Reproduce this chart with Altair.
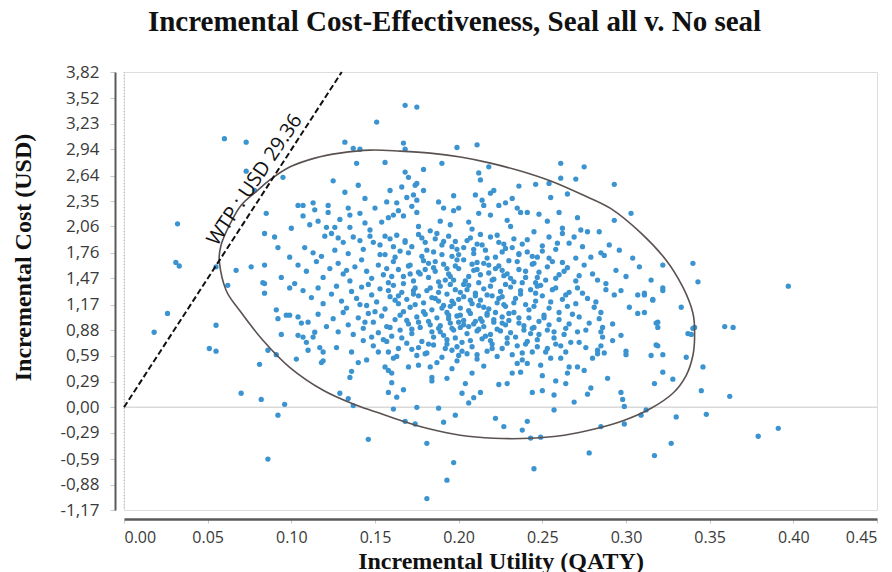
import altair as alt
import pandas as pd

TITLE = "Incremental Cost-Effectiveness, Seal all v. No seal"
X_TITLE = "Incremental Utility (QATY)"
Y_TITLE = "Incremental Cost (USD)"
WTP = 29.36
WTP_LABEL = "WTP :  USD 29.36"

x_ticks = [0.00, 0.05, 0.10, 0.15, 0.20, 0.25, 0.30, 0.35, 0.40, 0.45]
y_ticks = [-1.17, -0.88, -0.59, -0.29, 0.00, 0.29, 0.59, 0.88, 1.17, 1.47,
           1.76, 2.06, 2.35, 2.64, 2.94, 3.23, 3.52, 3.82]

# simulated (QATY, USD) pairs, grouped by region
sparse_left = [(0.018,0.855),(0.026,1.07),(0.032,2.09),(0.031,1.65),(0.033,1.61),(0.060,3.06),
    (0.073,3.02),(0.073,2.69),(0.078,2.47),(0.095,2.62),(0.085,2.21),(0.084,1.98),(0.090,1.94),
    (0.092,1.82),(0.067,1.56),(0.055,1.60),(0.076,1.60),(0.084,1.62),(0.099,1.71),(0.055,0.935),
    (0.051,0.67),(0.055,0.64),(0.081,0.49),(0.086,0.65),(0.091,0.60),(0.070,0.16),(0.082,0.09),
    (0.096,0.034),(0.092,-0.09),(0.086,-0.59),(0.094,0.83),(0.103,0.55),(0.062,1.39),(0.083,1.42),
    (0.084,1.41),(0.084,1.30),(0.094,1.48),(0.099,1.36),(0.102,1.41),(0.091,1.11),(0.092,1.01),
    (0.097,1.05),(0.099,1.05)]
top_cloud = [(0.132,3.02),(0.137,2.95),(0.141,2.94),(0.151,3.25),(0.168,3.44),(0.175,3.42),
    (0.167,3.01),(0.168,2.94),(0.139,2.78),(0.156,2.79),(0.168,2.68),(0.170,2.62),
    (0.104,2.30),(0.107,2.30),(0.113,2.33),(0.122,2.30),(0.140,2.53),(0.144,2.38),(0.159,2.47),
    (0.166,2.51),(0.157,2.34),(0.163,2.33),(0.169,2.39),(0.175,2.36),(0.174,2.53),(0.175,2.55),
    (0.179,2.47),(0.173,2.42),(0.188,2.34),(0.197,2.41),(0.210,2.42),(0.221,2.47),(0.219,2.44),
    (0.214,2.36),(0.228,2.33),(0.246,2.54),(0.254,2.55),(0.293,2.54),(0.255,2.39),(0.265,2.43),
    (0.212,2.67),(0.213,2.59),(0.261,2.61),(0.270,2.60),(0.179,2.71),(0.190,2.78),(0.218,2.74),
    (0.261,2.78),(0.275,2.74),(0.199,2.96),(0.211,2.99),(0.132,2.45),(0.125,2.58),(0.236,2.52),
    (0.232,2.38)]
band_2_0 = [(0.114,2.25),(0.122,2.22),(0.107,2.18),(0.134,2.27),(0.135,2.19),(0.141,2.21),
    (0.150,2.27),(0.111,2.08),(0.100,2.04),(0.121,2.05),(0.126,2.05),(0.135,2.05),(0.144,2.10),
    (0.147,2.02),(0.154,2.11),(0.158,2.16),(0.161,2.19),(0.164,2.24),(0.167,2.18),(0.172,2.29),
    (0.175,2.22),(0.191,2.27),(0.197,2.24),(0.200,2.27),(0.215,2.30),(0.224,2.30),(0.212,2.21),
    (0.219,2.19),(0.235,2.27),(0.237,2.22),(0.241,2.22),(0.248,2.20),(0.260,2.22),(0.303,2.21),
    (0.293,2.13),(0.245,2.00),(0.262,2.04),(0.273,2.02),(0.277,2.00),(0.284,2.00),(0.206,2.11),
    (0.208,2.03),(0.229,2.13),(0.231,2.06),(0.195,2.08),(0.189,2.12),(0.183,2.01),(0.176,2.06),
    (0.253,2.12),(0.271,2.16),(0.129,2.14),(0.116,2.12)]
band_1_7 = [(0.120,1.95),(0.124,1.98),(0.128,1.93),(0.131,1.88),(0.137,1.94),(0.141,1.90),
    (0.147,1.95),(0.149,1.88),(0.153,1.85),(0.159,1.92),(0.163,1.96),(0.168,1.90),(0.172,1.83),
    (0.176,1.97),(0.180,1.88),(0.186,1.92),(0.190,1.85),(0.194,1.95),(0.198,1.89),(0.203,1.82),
    (0.207,1.93),(0.211,1.86),(0.216,1.79),(0.219,1.94),(0.224,1.88),(0.228,1.81),(0.233,1.92),
    (0.238,1.86),(0.241,1.77),(0.254,1.94),(0.262,1.98),(0.269,1.94),(0.250,1.84),(0.258,1.80),
    (0.266,1.87),(0.274,1.83),(0.290,1.85),(0.285,1.76),(0.287,1.73),(0.304,1.70),(0.108,1.82),
    (0.113,1.76),(0.118,1.72),(0.126,1.79),(0.134,1.75),(0.143,1.80),(0.156,1.74),(0.165,1.78),
    (0.178,1.72),(0.185,1.77),(0.196,1.72),(0.209,1.75),(0.222,1.71),(0.236,1.74),(0.247,1.71),
    (0.279,1.71),(0.296,1.79),(0.161,1.83),(0.199,1.80),(0.213,1.97)]
band_1_4 = [(0.104,1.62),(0.109,1.55),(0.115,1.66),(0.119,1.48),(0.123,1.58),(0.128,1.64),
    (0.131,1.52),(0.135,1.44),(0.138,1.60),(0.142,1.68),(0.145,1.55),(0.148,1.47),(0.152,1.62),
    (0.155,1.51),(0.158,1.42),(0.161,1.66),(0.164,1.57),(0.167,1.49),(0.170,1.61),(0.173,1.44),
    (0.176,1.54),(0.179,1.67),(0.182,1.48),(0.185,1.59),(0.188,1.43),(0.191,1.63),(0.194,1.52),
    (0.197,1.45),(0.200,1.58),(0.203,1.68),(0.206,1.49),(0.209,1.56),(0.212,1.42),(0.215,1.64),
    (0.218,1.53),(0.221,1.46),(0.224,1.61),(0.227,1.50),(0.230,1.67),(0.233,1.43),(0.236,1.57),
    (0.240,1.48),(0.244,1.63),(0.248,1.54),(0.252,1.45),(0.256,1.66),(0.260,1.51),(0.265,1.59),
    (0.270,1.44),(0.275,1.62),(0.280,1.52),(0.283,1.45),(0.288,1.41),(0.294,1.56),(0.300,1.49),
    (0.308,1.60),(0.322,1.62),(0.340,1.64),(0.343,1.43),(0.315,1.45),(0.186,1.66),(0.198,1.61),
    (0.211,1.65),(0.171,1.52),(0.157,1.58),(0.133,1.56),(0.246,1.42),(0.226,1.56),(0.195,1.40),
    (0.180,1.57),(0.271,1.36)]
band_1_1 = [(0.107,1.33),(0.112,1.25),(0.116,1.36),(0.119,1.18),(0.124,1.29),(0.127,1.38),
    (0.130,1.21),(0.133,1.13),(0.136,1.32),(0.139,1.24),(0.142,1.37),(0.145,1.16),(0.148,1.28),
    (0.151,1.20),(0.153,1.35),(0.156,1.12),(0.159,1.26),(0.161,1.39),(0.164,1.18),(0.166,1.31),
    (0.169,1.23),(0.171,1.14),(0.174,1.36),(0.176,1.27),(0.179,1.19),(0.181,1.33),(0.184,1.11),
    (0.186,1.24),(0.189,1.38),(0.191,1.16),(0.193,1.29),(0.196,1.21),(0.198,1.34),(0.201,1.13),
    (0.203,1.26),(0.206,1.39),(0.208,1.18),(0.210,1.30),(0.213,1.22),(0.215,1.35),(0.218,1.12),
    (0.220,1.27),(0.223,1.19),(0.225,1.32),(0.228,1.15),(0.231,1.37),(0.234,1.24),(0.237,1.29),
    (0.240,1.17),(0.243,1.34),(0.246,1.21),(0.250,1.27),(0.254,1.13),(0.258,1.36),(0.262,1.23),
    (0.266,1.31),(0.277,1.24),(0.282,1.20),(0.281,1.14),(0.285,1.08),(0.293,1.28),(0.297,1.33),
    (0.302,1.14),(0.311,1.28),(0.316,1.22),(0.322,1.33),(0.333,1.14),(0.288,1.34),(0.270,1.18),
    (0.247,1.38),(0.188,1.31),(0.200,1.23),(0.217,1.28),(0.162,1.22),(0.173,1.29),(0.205,1.34),
    (0.195,1.15),(0.212,1.16),(0.226,1.26),(0.322,1.36),(0.311,1.30),(0.316,1.23),(0.307,1.28)]
band_0_8 = [(0.104,1.03),(0.106,0.96),(0.104,0.82),(0.107,0.80),(0.114,0.855),(0.110,0.97),
    (0.116,1.06),(0.121,0.92),(0.125,1.01),(0.128,0.86),(0.131,1.08),(0.134,0.94),(0.137,0.83),
    (0.140,1.02),(0.143,0.90),(0.146,1.07),(0.149,0.97),(0.152,0.85),(0.154,1.04),(0.157,0.92),
    (0.160,0.81),(0.162,1.00),(0.165,0.88),(0.167,1.09),(0.170,0.95),(0.172,0.84),(0.175,1.03),
    (0.177,0.91),(0.180,1.06),(0.182,0.98),(0.184,0.86),(0.187,1.02),(0.189,0.93),(0.191,0.82),
    (0.193,1.08),(0.195,0.96),(0.197,0.88),(0.199,1.04),(0.201,0.91),(0.203,0.99),(0.205,0.84),
    (0.207,1.07),(0.209,0.95),(0.211,0.87),(0.213,1.01),(0.215,0.92),(0.217,1.05),(0.219,0.83),
    (0.221,0.97),(0.223,0.89),(0.226,1.03),(0.228,0.94),(0.231,0.85),(0.233,1.08),(0.236,0.96),
    (0.239,0.88),(0.242,1.02),(0.245,0.91),(0.248,0.83),(0.251,1.05),(0.254,0.94),(0.257,0.86),
    (0.260,1.00),(0.264,0.90),(0.268,1.06),(0.272,1.03),(0.271,0.86),(0.284,1.01),(0.286,0.91),
    (0.285,0.86),(0.286,0.80),(0.297,0.82),(0.292,0.95),(0.319,0.97),(0.319,0.91),(0.307,1.07),
    (0.311,1.08),(0.337,0.84),(0.340,0.90),(0.278,0.96),(0.200,0.97),(0.188,0.90),(0.214,0.98),
    (0.176,0.97),(0.222,1.08),(0.194,1.01),(0.206,0.92),(0.183,0.94),(0.230,0.99),(0.318,0.96)]
band_0_5 = [(0.109,0.74),(0.110,0.65),(0.117,0.68),(0.119,0.63),(0.119,0.53),(0.127,0.68),
    (0.136,0.63),(0.113,0.80),(0.152,0.63),(0.158,0.63),(0.164,0.67),(0.169,0.73),(0.175,0.59),
    (0.140,0.51),(0.145,0.54),(0.118,0.51),(0.187,0.51),(0.143,0.76),(0.149,0.70),(0.155,0.77),
    (0.161,0.56),(0.166,0.79),(0.172,0.66),(0.178,0.75),(0.181,0.62),(0.185,0.71),(0.190,0.57),
    (0.193,0.77),(0.196,0.65),(0.199,0.53),(0.202,0.74),(0.205,0.61),(0.208,0.69),(0.211,0.55),
    (0.214,0.78),(0.217,0.64),(0.220,0.72),(0.223,0.58),(0.226,0.67),(0.229,0.79),(0.232,0.60),
    (0.235,0.70),(0.238,0.54),(0.241,0.75),(0.244,0.63),(0.253,0.67),(0.255,0.56),(0.261,0.56),
    (0.249,0.48),(0.241,0.50),(0.235,0.50),(0.267,0.74),(0.272,0.74),(0.283,0.65),(0.283,0.61),
    (0.280,0.56),(0.285,0.70),(0.287,0.62),(0.300,0.64),(0.300,0.60),(0.292,0.76),(0.315,0.59),
    (0.319,0.70),(0.322,0.60),(0.336,0.57),(0.339,0.83),(0.258,0.72),(0.264,0.63),(0.276,0.68),
    (0.247,0.77),(0.192,0.67),(0.200,0.59),(0.318,0.71),(0.346,0.46)]
band_0_2 = [(0.135,0.34),(0.136,0.41),(0.156,0.46),(0.158,0.42),(0.160,0.39),(0.160,0.28),
    (0.170,0.46),(0.176,0.48),(0.183,0.46),(0.184,0.34),(0.184,0.30),(0.208,0.39),(0.204,0.27),
    (0.232,0.39),(0.237,0.40),(0.229,0.27),(0.224,0.26),(0.266,0.46),(0.265,0.39),(0.264,0.27),
    (0.271,0.46),(0.275,0.42),(0.289,0.33),(0.317,0.27),(0.322,0.40),(0.328,0.32),(0.279,0.22),
    (0.196,0.44),(0.215,0.47),(0.250,0.36),(0.167,0.20),(0.193,0.33),(0.258,0.30)]
band_0_0 = [(0.129,0.16),(0.134,0.10),(0.137,0.02),(0.158,0.17),(0.163,0.115),(0.161,-0.02),
    (0.175,0.0),(0.188,-0.01),(0.198,-0.09),(0.202,0.16),(0.206,0.05),(0.209,0.11),(0.213,0.17),
    (0.222,-0.125),(0.244,0.17),(0.250,0.19),(0.257,0.14),(0.257,-0.03),(0.269,0.06),(0.277,0.15),
    (0.297,0.17),(0.298,0.09),(0.299,0.01),(0.309,-0.09),(0.312,-0.03),(0.330,-0.11),(0.345,0.19),
    (0.348,-0.08),(0.362,0.125)]
low_and_right = [(0.146,-0.365),(0.168,-0.16),(0.174,-0.19),(0.181,-0.41),(0.181,-1.04),
    (0.193,-0.83),(0.191,-0.17),(0.197,-0.63),(0.227,-0.22),(0.238,-0.26),(0.241,-0.16),
    (0.243,-0.35),(0.249,-0.34),(0.245,-0.70),(0.278,-0.52),(0.285,-0.22),(0.299,-0.19),
    (0.317,-0.55),(0.327,-0.41),(0.379,-0.33),(0.391,-0.24),(0.397,1.38),(0.359,0.92),
    (0.364,0.91),(0.341,0.91)]
dense_core = [(0.156,1.95),(0.162,1.71),(0.158,1.33),(0.165,1.05),(0.157,0.75),(0.163,0.58),
    (0.168,1.88),(0.171,1.62),(0.167,1.41),(0.174,1.17),(0.169,0.99),(0.176,0.68),(0.178,1.93),
    (0.181,1.79),(0.177,1.52),(0.183,1.36),(0.179,1.09),(0.185,0.80),(0.180,0.61),(0.187,1.98),
    (0.190,1.74),(0.186,1.55),(0.192,1.45),(0.188,1.21),(0.194,1.05),(0.189,0.86),(0.193,0.72),
    (0.196,1.83),(0.199,1.68),(0.195,1.49),(0.201,1.31),(0.197,1.18),(0.203,0.94),(0.198,0.79),
    (0.202,0.64),(0.205,1.90),(0.208,1.63),(0.204,1.44),(0.210,1.27),(0.206,1.10),(0.212,0.89),
    (0.207,0.76),(0.211,0.60),(0.214,1.85),(0.217,1.70),(0.213,1.51),(0.219,1.38),(0.215,1.14),
    (0.221,1.00),(0.216,0.81),(0.220,0.67),(0.223,1.96),(0.226,1.77),(0.222,1.58),(0.228,1.40),
    (0.224,1.24),(0.230,1.07),(0.225,0.87),(0.229,0.73),(0.232,1.82),(0.235,1.66),(0.231,1.47),
    (0.237,1.33),(0.233,1.19),(0.239,0.93),(0.234,0.80),(0.238,0.62),(0.241,1.91),(0.244,1.72),
    (0.240,1.55),(0.246,1.30),(0.242,1.11),(0.248,0.98),(0.243,0.84),(0.247,0.69),(0.250,1.78),
    (0.253,1.60),(0.249,1.39),(0.255,1.20),(0.251,1.02),(0.257,0.79),(0.252,0.63),(0.259,1.87),
    (0.262,1.65),(0.258,1.47),(0.264,1.28),(0.260,1.08),(0.266,0.95),(0.261,0.70),(0.160,1.49),
    (0.164,1.27),(0.159,0.91),(0.170,1.76),(0.173,1.33),(0.172,0.89),(0.182,1.64),(0.184,1.25),
    (0.182,0.72),(0.191,1.89),(0.193,1.58),(0.190,1.13),(0.196,0.90),(0.200,1.74),(0.203,1.40),
    (0.201,1.05),(0.199,0.69),(0.209,1.80),(0.211,1.57),(0.207,1.22),(0.210,0.98),(0.218,1.62),
    (0.220,1.45),(0.217,1.07),(0.219,0.76),(0.227,1.86),(0.229,1.52),(0.227,1.17),(0.226,0.96),
    (0.236,1.75),(0.238,1.42),(0.236,1.02),(0.240,0.72),(0.245,1.64),(0.247,1.48),(0.245,1.15),
    (0.244,0.90),(0.254,1.70),(0.256,1.34),(0.253,0.88),(0.263,1.55),(0.265,1.15),(0.263,0.83),
    (0.146,1.40),(0.150,1.09),(0.148,0.80),(0.153,1.74),(0.270,1.70),(0.274,1.30),(0.276,0.88),
    (0.272,1.50),(0.141,1.17),(0.144,0.97)]

# confidence ellipse outline
ellipse_x = [0.057,0.058,0.063,0.070,0.080,0.087,0.099,0.114,0.129,0.147,0.165,0.183,0.201,
    0.219,0.237,0.255,0.273,0.291,0.309,0.324,0.334,0.340,0.341,0.340,0.336,0.328,0.315,0.299,
    0.283,0.263,0.243,0.221,0.201,0.181,0.165,0.153,0.139,0.119,0.099,0.083,0.069,0.061]
ellipse_y = [1.653,1.847,2.075,2.303,2.474,2.588,2.737,2.839,2.896,2.930,2.919,2.896,2.851,
    2.782,2.691,2.577,2.429,2.263,1.984,1.676,1.368,1.072,0.821,0.593,0.365,0.160,-0.011,-0.148,
    -0.239,-0.319,-0.353,-0.353,-0.319,-0.239,-0.148,-0.068,0.023,0.194,0.456,0.764,1.106,1.334]

points = (sparse_left + top_cloud + band_2_0 + band_1_7 + band_1_4 + band_1_1 + band_0_8
          + band_0_5 + band_0_2 + band_0_0 + low_and_right + dense_core)
df = pd.DataFrame(points, columns=["u", "c"])
ell = pd.DataFrame({"u": ellipse_x, "c": ellipse_y, "i": list(range(len(ellipse_x)))})
y_top = y_ticks[-1]
wtp_df = pd.DataFrame({"u": [0.0, y_top / WTP], "c": [0.0, y_top]})
lab_y = 2.50
lab_df = pd.DataFrame({"u": [lab_y / WTP], "c": [lab_y], "t": [WTP_LABEL]})
zero_df = pd.DataFrame({"u": [0.0], "u2": [0.45], "c": [0.0]})

SERIF = "Liberation Serif"
SANS = "Open Sans"
xs = alt.Scale(domain=[0, 0.45], nice=False, zero=False)
ys = alt.Scale(domain=[y_ticks[0], y_top], nice=False, zero=False)

x_axis = alt.Axis(values=x_ticks, tickCount=len(x_ticks), format=".2f", title=X_TITLE,
                  grid=False, offset=9,
                  domainColor="#5a5a5a", domainWidth=2.5, tickColor="#c8c8c8", tickSize=4,
                  labelFont=SANS, labelFontSize=16, labelColor="#3a3a3a", labelPadding=6,
                  labelOverlap=False,
                  titleFont=SERIF, titleFontSize=24, titleFontWeight="bold",
                  titleColor="#111111", titlePadding=4)
y_axis = alt.Axis(values=y_ticks, tickCount=len(y_ticks), title=Y_TITLE, grid=False, offset=9,
                  labelExpr="(datum.value < 0 ? '-' : '') + replace(format(abs(datum.value), '.2f'), '.', ',')",
                  domainColor="#5a5a5a", domainWidth=2, tickColor="#c8c8c8", tickSize=5,
                  labelFont=SANS, labelFontSize=17, labelColor="#3a3a3a", labelPadding=11,
                  labelOverlap=False,
                  titleFont=SERIF, titleFontSize=24, titleFontWeight="bold",
                  titleColor="#111111", titlePadding=24, titleY=185)

X = alt.X("u:Q", scale=xs, axis=x_axis)
Y = alt.Y("c:Q", scale=ys, axis=y_axis)

zero_line = alt.Chart(zero_df).mark_rule(color="#d9d9d9", strokeWidth=1.5).encode(
    x=X, x2="u2:Q", y=Y)
vline = alt.Chart(zero_df).mark_rule(color="#bdbdbd", strokeWidth=1, strokeDash=[1, 2]).encode(
    x=X, y=alt.value(0), y2=alt.value(438))
dots = alt.Chart(df).mark_circle(size=28, color="#3b93d0", opacity=1).encode(x=X, y=Y)
ellipse = alt.Chart(ell).mark_line(color="#5a5250", strokeWidth=1.6,
                                   interpolate="cardinal-closed").encode(x=X, y=Y, order="i:Q")
wtp_line = alt.Chart(wtp_df).mark_line(color="#111111", strokeWidth=2, strokeDash=[6, 3]).encode(
    x=X, y=Y)
wtp_text = alt.Chart(lab_df).mark_text(angle=304, align="center", baseline="bottom", dy=-4,
                                       font=SANS, fontSize=20, color="#111111").encode(
    x=X, y=Y, text="t:N")

chart = alt.layer(zero_line, vline, dots, ellipse, wtp_line, wtp_text).properties(
    width=753, height=438,
    title=alt.TitleParams(TITLE, font=SERIF, fontSize=29, fontWeight="bold", color="#111111",
                          anchor="middle", dx=-46, offset=26),
    autosize=alt.AutoSizeParams(type="none"),
    padding={"left": 124, "top": 72, "right": 15, "bottom": 62},
).configure_view(stroke=None).configure(background="white")

chart.save("out.html", embed_options={"renderer": "svg", "actions": False})
